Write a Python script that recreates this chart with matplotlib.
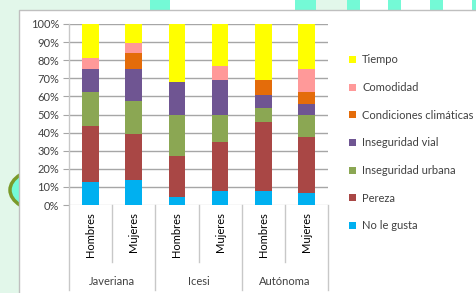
import numpy as np
import matplotlib.pyplot as plt
from matplotlib.patches import Rectangle, Circle

plt.rcParams['font.family'] = ['Lato', 'DejaVu Sans']

groups = ["Javeriana", "Icesi", "Autónoma"]
sexes = ["Hombres", "Mujeres", "Hombres", "Mujeres", "Hombres", "Mujeres"]

# stacked shares (%) bottom -> top
no_le_gusta = [12.5, 14.0, 4.5, 8.0, 8.0, 6.5]
pereza = [31.0, 25.0, 22.5, 26.7, 38.0, 31.0]
inseg_urbana = [19.0, 18.5, 22.7, 15.0, 7.5, 12.0]
inseg_vial = [12.5, 17.5, 18.3, 19.3, 7.5, 6.3]
condiciones = [0.0, 8.8, 0.0, 0.0, 8.0, 6.8]
comodidad = [6.0, 5.5, 0.0, 8.0, 0.0, 12.7]
tiempo = [19.0, 10.7, 32.0, 23.0, 31.0, 24.5]

series = [
    ("No le gusta", no_le_gusta, "#00B0F0"),
    ("Pereza", pereza, "#A94745"),
    ("Inseguridad urbana", inseg_urbana, "#8BA753"),
    ("Inseguridad vial", inseg_vial, "#6F5592"),
    ("Condiciones climáticas", condiciones, "#E46C0A"),
    ("Comodidad", comodidad, "#FF9999"),
    ("Tiempo", tiempo, "#FFFF00"),
]

W, H = 476, 293
fig = plt.figure(figsize=(W / 100, H / 100), dpi=100)
fig.patch.set_facecolor("#E2F7EA")

def px(x, y, w, h, **kw):
    # rectangle given in image pixels (top-left origin)
    return Rectangle((x / W, 1 - (y + h) / H), w / W, h / H,
                     transform=fig.transFigure, zorder=-5, **kw)

# top decoration strip
fig.patches.append(px(150, 0, 20, 10, facecolor="#74FAD6", edgecolor="none"))
fig.patches.append(px(170, 0, 125, 10, facecolor="white", edgecolor="none"))
fig.patches.append(px(295, 0, 21, 10, facecolor="#74FAD6", edgecolor="none"))
fig.patches.append(px(347, 0, 129, 10, facecolor="white", edgecolor="none"))
for x0 in [347, 388, 430, 472]:
    fig.patches.append(px(x0, 0, 13, 10, facecolor="#74FAD6", edgecolor="none"))
# green ring on the left
fig.patches.append(Circle((45 / W, 1 - 190 / H), 35 / W, transform=fig.transFigure,
                          facecolor="#74FAD6", edgecolor="#7A9A2A", lw=2.5, zorder=-5))
# chart box
fig.patches.append(px(19, 10, 470, 300, facecolor="white", edgecolor="#BFBFBF", lw=1))

ax = fig.add_axes([69 / W, 1 - 205 / H, (328 - 69) / W, (205 - 24) / H])
ax.set_facecolor("none")
ax.set_zorder(5)

x = np.arange(len(sexes))
bottom = np.zeros(len(sexes))
handles = []
for name, vals, col in series:
    b = ax.bar(x, vals, 0.385, bottom=bottom, color=col, zorder=3, label=name)
    handles.append(b)
    bottom += np.array(vals)

ax.set_xlim(-0.5, 5.5)
ax.set_ylim(0, 100)
ax.set_yticks(np.arange(0, 101, 10))
ax.set_yticklabels([f"{v}%" for v in range(0, 101, 10)], fontsize=8, color="#404040")
for v in range(10, 101, 10):
    ax.axhline(v, color="#A6A6A6", lw=1, zorder=1)
ax.axhline(0, color="#D9D9D9", lw=1, zorder=1)
ax.tick_params(axis="y", length=4, color="#A6A6A6", pad=3)
ax.set_xticks([])
for s in ax.spines.values():
    s.set_visible(False)

tr = ax.get_xaxis_transform()
line_kw = dict(color="#C8C8C8", lw=1, clip_on=False, transform=tr)
for i, xs in enumerate(np.arange(-0.5, 5.6, 1.0)):
    y_end = -0.47 if i % 2 == 0 else -0.315
    ax.plot([xs, xs], [1.0 if i == 0 else 0, y_end], **line_kw)

for i, s in enumerate(sexes):
    ax.text(i, -0.04, s, rotation=90, ha="center", va="top", fontsize=8,
            transform=tr, color="black")
for g, name in enumerate(groups):
    ax.text(2 * g + 0.5, -0.42, name, ha="center", va="center", fontsize=8,
            transform=tr, color="#404040")

leg = fig.legend(handles[::-1], [s[0] for s in series][::-1],
                 loc="upper left", bbox_to_anchor=(345 / W, 1 - 50 / H),
                 frameon=False, fontsize=8, handlelength=0.6, handleheight=0.6,
                 handletextpad=0.55, labelspacing=1.5, borderaxespad=0)
leg.set_zorder(6)
for t in leg.get_texts():
    t.set_color("#404040")

fig.savefig("out.png", dpi=100, facecolor=fig.get_facecolor())
